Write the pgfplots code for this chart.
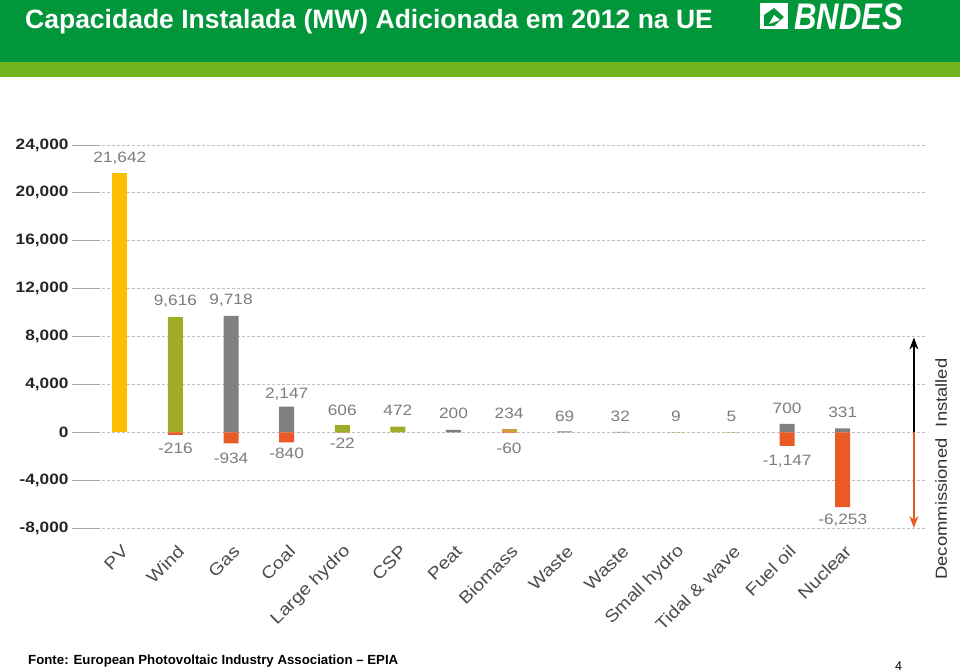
\documentclass[border=0pt]{standalone}
\usepackage{pgfplots}
\pgfplotsset{compat=1.18}
\usepackage{fontspec}
\setmainfont{Liberation Sans}
\newfontfamily\chartfont[FakeStretch=1.15]{Liberation Sans}
\usetikzlibrary{arrows.meta}

\definecolor{hdrgreen}{RGB}{0,150,57}
\definecolor{stripe}{RGB}{112,180,30}
\definecolor{pvyellow}{RGB}{253,190,0}
\definecolor{windgreen}{RGB}{160,172,40}
\definecolor{gasgray}{RGB}{128,128,128}
\definecolor{biotan}{RGB}{205,160,60}
\definecolor{decorange}{RGB}{234,90,36}
\definecolor{lblgray}{RGB}{125,125,125}

\tikzset{lbl/.style={font=\chartfont\fontsize{15}{15}\selectfont, text=lblgray}}

\begin{document}
\begin{tikzpicture}
  \path[use as bounding box, fill=white] (0pt,0pt) rectangle (960pt,-671pt);

  \begin{axis}[
      at={(72pt,-528pt)}, anchor=south west,
      scale only axis, width=853pt, height=383pt,
      xmin=-0.86, xmax=14.48, ymin=-8000, ymax=24000,
      ytick={-8000,-4000,...,24000},
      scaled y ticks=false,
      /pgf/number format/fixed,
      /pgf/number format/1000 sep={,},
      /pgf/number format/assume math mode=true,
      yticklabel style={font=\chartfont\fontsize{15}{15}\selectfont\bfseries, text=black!85},
      xtick={0,...,13},
      xticklabels={PV,Wind,Gas,Coal,Large hydro,CSP,Peat,Biomass,Waste,Waste,Small hydro,Tidal \& wave,Fuel oil,Nuclear},
      xticklabel style={xshift=8pt, yshift=10pt, rotate=45, anchor=east,
        font=\chartfont\fontsize{17}{17}\selectfont, text=black!70},
      xtick style={draw=none},
      ytick style={draw=black!35, line width=0.8pt},
      ytick pos=left, tick align=inside, major tick length=28pt,
      ymajorgrids, grid style={densely dashed, black!25, line width=0.8pt},
      axis line style={draw=none},
      ybar, bar width=15pt,
      clip=false,
    ]
    % installed
    \addplot[fill=pvyellow, draw=none, bar shift=0pt] coordinates {(0,21642)};
    \addplot[fill=windgreen, draw=none, bar shift=0pt] coordinates {
      (1,9616) (4,606) (5,472) (10,9) (11,5)};
    \addplot[fill=gasgray, draw=none, bar shift=0pt] coordinates {
      (2,9718) (3,2147) (6,200) (8,69) (9,32) (12,700) (13,331)};
    \addplot[fill=biotan, draw=none, bar shift=0pt] coordinates {(7,234)};
    % decommissioned
    \addplot[fill=decorange, draw=none, bar shift=0pt] coordinates {
      (1,-216) (2,-934) (3,-840) (4,-22) (7,-60) (12,-1147) (13,-6253)};

    % value labels
    \node[lbl] at (axis cs:0,22917) {21,642};
    \node[lbl] at (axis cs:1,10917) {9,616};
    \node[lbl] at (axis cs:2,11000) {9,718};
    \node[lbl] at (axis cs:3,3167) {2,147};
    \node[lbl] at (axis cs:4,1833) {606};
    \node[lbl] at (axis cs:5,1833) {472};
    \node[lbl] at (axis cs:6,1583) {200};
    \node[lbl] at (axis cs:7,1583) {234};
    \node[lbl] at (axis cs:8,1333) {69};
    \node[lbl] at (axis cs:9,1333) {32};
    \node[lbl] at (axis cs:10,1333) {9};
    \node[lbl] at (axis cs:11,1333) {5};
    \node[lbl] at (axis cs:12,2000) {700};
    \node[lbl] at (axis cs:13,1667) {331};
    \node[lbl] at (axis cs:1,-1333) {-216};
    \node[lbl] at (axis cs:2,-2167) {-934};
    \node[lbl] at (axis cs:3,-1750) {-840};
    \node[lbl] at (axis cs:4,-917) {-22};
    \node[lbl] at (axis cs:7,-1333) {-60};
    \node[lbl] at (axis cs:12,-2417) {-1,147};
    \node[lbl] at (axis cs:13,-7333) {-6,253};

    % installed / decommissioned arrow
    \draw[black, line width=1.6pt, -{Stealth[length=12pt,width=9pt]}]
      (axis cs:14.28,0) -- (axis cs:14.28,7917);
    \draw[decorange, line width=1.6pt, -{Stealth[length=12pt,width=9pt]}]
      (axis cs:14.28,0) -- (axis cs:14.28,-8000);
    \node[rotate=90, anchor=west, inner sep=0pt, text=black!80,
      font=\chartfont\fontsize{16}{16}\selectfont] at (axis cs:14.77,417) {Installed};
    \node[rotate=90, anchor=east, inner sep=0pt, text=black!80,
      font=\chartfont\fontsize{16}{16}\selectfont] at (axis cs:14.77,-500) {Decommissioned};
  \end{axis}

  % header
  \fill[hdrgreen] (0pt,0pt) rectangle (960pt,-62pt);
  \fill[stripe] (0pt,-62pt) rectangle (960pt,-77pt);
  \node[anchor=base west, inner sep=0pt, text=white,
    font=\fontsize{26.5}{26.5}\selectfont\bfseries] at (25pt,-29pt)
    {Capacidade Instalada (MW) Adicionada em 2012 na UE};
  % logo
  \fill[white] (760pt,-3pt) rectangle (788pt,-29pt);
  \fill[hdrgreen] (764pt,-26pt) -- (764pt,-15pt) -- (774pt,-8pt) -- (784pt,-17pt) -- (774pt,-26pt) -- cycle;
  \fill[white] (769pt,-24pt) -- (774pt,-15pt) -- (780pt,-20pt) -- cycle;
  \node[anchor=base west, inner sep=0pt, text=white,
    font=\fontsize{37}{37}\selectfont\bfseries\itshape] at (794pt,-30pt)
    {\scalebox{0.84}[1]{BNDES}};

  % footer
  \node[anchor=base west, inner sep=0pt,
    font=\fontsize{13.25}{13.25}\selectfont\bfseries] at (28pt,-664pt)
    {Fonte: European Photovoltaic Industry Association – EPIA};
  \node[anchor=base west, inner sep=0pt, font=\fontsize{12.5}{12.5}\selectfont]
    at (895pt,-670pt) {4};
\end{tikzpicture}
\end{document}
